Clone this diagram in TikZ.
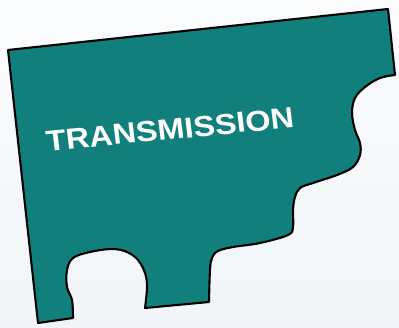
\documentclass[tikz,border=0pt]{standalone}
\usepackage{fontspec}
\newfontfamily\piecefont{Liberation Sans}
\usepackage{tikz}
\usetikzlibrary{calc}
\definecolor{piecefill}{HTML}{117F7B}
\definecolor{bgtop}{HTML}{FBFCFD}
\definecolor{bgbottom}{HTML}{F1F5F9}
\tikzset{
    piece/.style={draw=black, line width=2.1pt, fill=piecefill, line join=round},
    piecelabel/.style={text=white, font=\piecefont\bfseries\fontsize{29}{33}\selectfont, inner sep=0pt, xscale=1.12}
}

\begin{document}
\begin{tikzpicture}[x=1pt, y=-1pt]
        % Background
        \shade[top color=bgtop, bottom color=bgbottom] (0,0) rectangle (399,328);
        \useasboundingbox (0,0) rectangle (399,328);

        % Puzzle piece
        \draw[piece] (8,50) -- (388,9)
            -- plot[smooth, tension=0.6] coordinates {(395,75) (380,78) (365,87) (355,98) (352,113) (355,130) (360,143) (360,155) (353,167) (337,175) (313,183) (300,188) (295,197) (293,210) (293,227) (288,235) (260,243) (233,247) (218,251) (212,258) (210,270) (209,302)}
            -- plot[smooth, tension=0.6] coordinates {(145,308) (147,287) (145,273) (138,260) (127,252) (112,249) (90,252) (73,258) (67,270) (67,287) (72,300) (73,318)}
            -- (38,323) -- cycle;

        % Label
        \node (trans) at (170,129.5) [piecelabel, rotate=6.2] {TRANSMISSION};
    \end{tikzpicture}
\end{document}
